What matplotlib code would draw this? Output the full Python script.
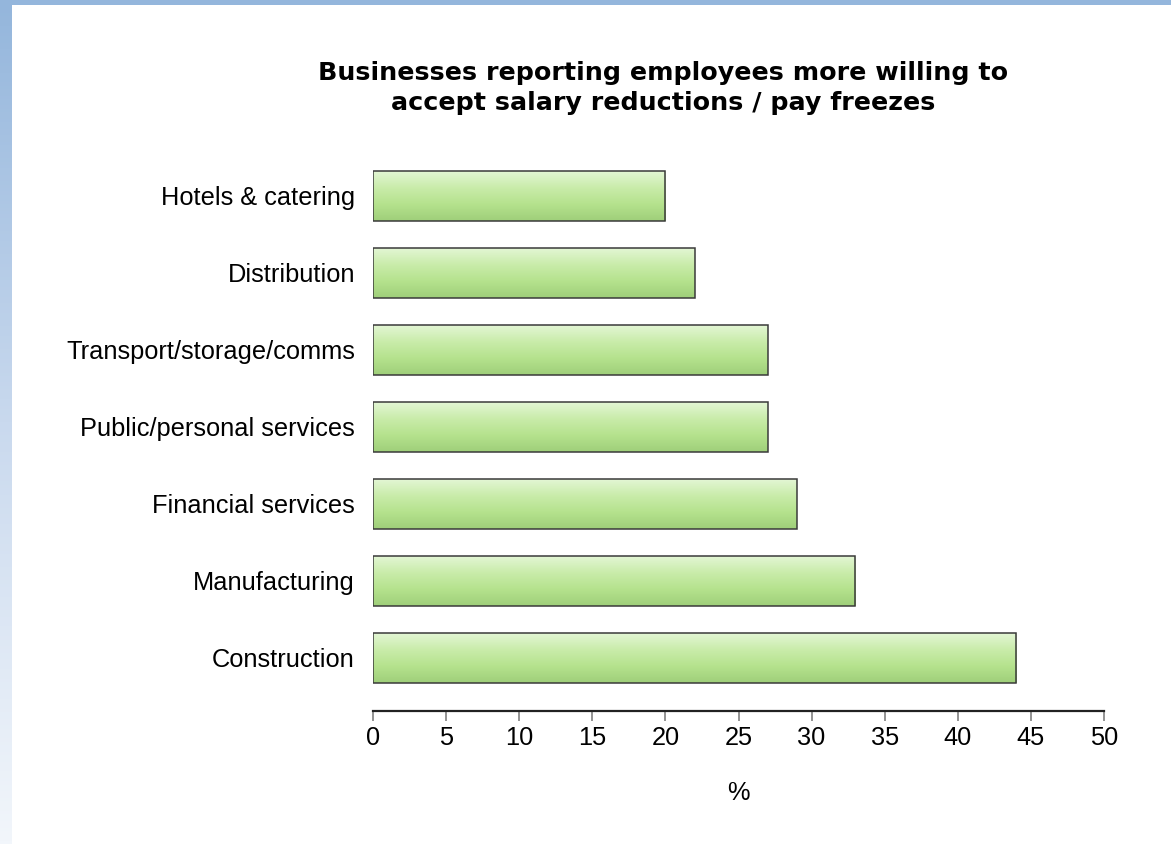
import matplotlib.pyplot as plt
import matplotlib.colors as mcolors
import numpy as np

sectors = ['Construction', 'Manufacturing', 'Financial services',
           'Public/personal services', 'Transport/storage/comms',
           'Distribution', 'Hotels & catering']
values = [44, 33, 29, 27, 27, 22, 20]
xticks = [0, 5, 10, 15, 20, 25, 30, 35, 40, 45, 50]

plt.rcParams['font.family'] = ['Liberation Sans', 'DejaVu Sans']

fig = plt.figure(figsize=(11.71, 8.44), dpi=100)
W, H = 1171, 844

# slide-style frame: blue strip on top, fading strip on the left
side = fig.add_axes([0, 0, 12 / W, 1])
side.imshow(np.linspace(0, 1, 256).reshape(-1, 1), aspect='auto',
            cmap=mcolors.LinearSegmentedColormap.from_list('side', ['#94b6dc', '#c9d9ee', '#f2f6fb']),
            extent=[0, 1, 0, 1], origin='upper')
side.axis('off')
top = fig.add_axes([0, 1 - 5 / H, 1, 5 / H])
top.set_facecolor('#94b6dc')
top.set_xticks([]); top.set_yticks([])
for s in top.spines.values():
    s.set_visible(False)

ax = fig.add_axes([373 / W, 1 - 711 / H, (1104 - 373) / W, (711 - 157.5) / H])
bar_cmap = mcolors.LinearSegmentedColormap.from_list(
    'bar', ['#e3f6d4', '#c9ecaa', '#b5e28d', '#9fcf7a'])
grad = np.linspace(0, 1, 100).reshape(-1, 1)

ypos = np.arange(len(sectors))
bars = ax.barh(ypos, values, height=0.64, color='none',
               edgecolor='#3a3a3a', linewidth=1.1, zorder=3)
for b in bars:
    x0, y0 = b.get_x(), b.get_y()
    w, h = b.get_width(), b.get_height()
    im = ax.imshow(grad, aspect='auto', cmap=bar_cmap, origin='upper',
                   extent=[x0, x0 + w, y0, y0 + h], zorder=2)
    im.set_clip_path(b)

ax.set_xlim(0, 50)
ax.set_ylim(-0.69, 6.5)
ax.set_yticks(ypos)
ax.set_yticklabels(sectors, fontsize=18.3)
ax.tick_params(axis='y', length=0, pad=13)
ax.set_xticks(xticks)
ax.set_xticklabels([str(t) for t in xticks], fontsize=18.3)
ax.tick_params(axis='x', length=7, width=1.2, color='#808080', pad=4)
for s in ['left', 'right', 'top']:
    ax.spines[s].set_visible(False)
ax.spines['bottom'].set_linewidth(1.6)
ax.spines['bottom'].set_color('#222222')
ax.set_xlabel('%', fontsize=18.3, labelpad=22)

fig.text(663 / W, 1 - 88 / H,
         'Businesses reporting employees more willing to\naccept salary reductions / pay freezes',
         ha='center', va='center', fontsize=18.3, fontweight='bold',
         family='DejaVu Sans', linespacing=1.32)

fig.savefig('out.png', dpi=100)
